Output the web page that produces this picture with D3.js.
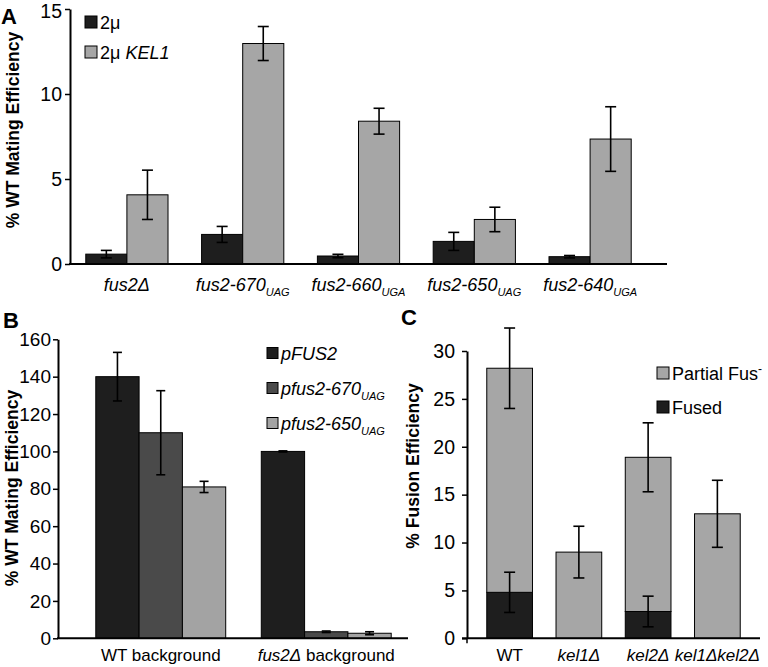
<!DOCTYPE html>
<html><head><meta charset="utf-8">
<script src="https://cdn.jsdelivr.net/npm/d3@7"></script>
<style>
body{margin:0;background:#fff}
svg{display:block}
text{font-family:"Liberation Sans",Arial,Helvetica,sans-serif;fill:#000}
</style>
</head><body>
<svg id="chart" width="768" height="667"></svg>
<script>
// ---------- Panel A data ----------
const aCategories = ["fus2Δ", "fus2-670", "fus2-660", "fus2-650", "fus2-640"];
const aSubscripts = ["", "UAG", "UGA", "UAG", "UGA"];
const aSeries = ["2μ", "2μ KEL1"];
const a2mu = [0.58, 1.74, 0.47, 1.33, 0.43];
const a2muErr = [0.22, 0.47, 0.1, 0.53, 0.07];
const a2muKEL1 = [4.07, 12.97, 8.4, 2.62, 7.35];
const a2muKEL1Err = [1.45, 1.0, 0.76, 0.72, 1.9];
const aTicks = [0, 5, 10, 15];

// ---------- Panel B data ----------
const bCategoriesItalic = ["", "fus2Δ"];
const bCategoriesPlain = ["WT background", " background"];
const bSeries = ["pFUS2", "pfus2-670", "pfus2-650"];
const bSeriesSub = ["", "UAG", "UAG"];
const bPFUS2 = [140, 100];
const bPFUS2Err = [13, 0.3];
const bP670 = [110, 3.5];
const bP670Err = [22.5, 0.4];
const bP650 = [81, 2.7];
const bP650Err = [3, 0.8];
const bTicks = [0, 20, 40, 60, 80, 100, 120, 140, 160];

// ---------- Panel C data ----------
const cCategories = ["WT", "kel1Δ", "kel2Δ", "kel1Δkel2Δ"];
const cCategoryItalic = [false, true, true, true];
const cFused = [4.8, 0, 2.8, 0];
const cFusedErr = [2.1, 0, 1.6, 0];
const cPartial = [23.4, 9.0, 16.1, 13.0];
const cTotalErr = [4.2, 2.7, 3.6, 3.5];
const cTicks = [0, 5, 10, 15, 20, 25, 30];

const svg = d3.select("#chart");
const DARK = "#1e1e1e", MID = "#4a4a4a", LIGHT = "#a6a6a6", LIGHT_B = "#a3a3a3";
const TICK_FS = 19.5, LABEL_FS = 17;

function yAxis(g, y, ticks, x, pad, fs) {
  const ax = g.append("g").attr("transform", `translate(${x},0)`)
    .call(d3.axisLeft(y).tickValues(ticks).tickSize(5).tickSizeOuter(0).tickPadding(pad).tickFormat(d3.format("d")));
  ax.select(".domain").attr("stroke", "#000").attr("stroke-width", 2);
  ax.selectAll(".tick line").attr("stroke", "#000").attr("stroke-width", 1.5);
  ax.selectAll(".tick text").attr("font-size", fs || TICK_FS).attr("font-family", "Liberation Sans, Arial, sans-serif").attr("fill", "#000");
  return ax;
}
function baseline(g, y, x0, x1) {
  g.append("line").attr("x1", x0 - 1).attr("x2", x1).attr("y1", y(0)).attr("y2", y(0))
    .attr("stroke", "#000").attr("stroke-width", 2);
}
function errBar(g, cx, y, v, e, cap) {
  g.append("line").attr("x1", cx).attr("x2", cx).attr("y1", y(v + e)).attr("y2", y(v - e))
    .attr("stroke", "#000").attr("stroke-width", 1.6);
  [v + e, v - e].forEach(t => g.append("line").attr("x1", cx - cap / 2).attr("x2", cx + cap / 2)
    .attr("y1", y(t)).attr("y2", y(t)).attr("stroke", "#000").attr("stroke-width", 1.6));
}
function yLabel(text, x, y) {
  svg.append("text").attr("transform", `translate(${x},${y}) rotate(-90)`)
    .attr("text-anchor", "middle").attr("font-size", 17.5).attr("font-weight", "bold").text(text);
}
function panelLetter(t, x, y) {
  svg.append("text").attr("x", x).attr("y", y).attr("font-size", 22).attr("font-weight", "bold").text(t);
}

// ================= Panel A =================
{
  const g = svg.append("g");
  const y = d3.scaleLinear().domain([0, 15]).range([264, 9]);
  const x = d3.scaleBand().domain(aCategories).range([69, 648]).paddingInner(0.29).paddingOuter(0.145);
  const xi = d3.scaleBand().domain(aSeries).range([0, x.bandwidth()]);
  const vals = [a2mu, a2muKEL1], errs = [a2muErr, a2muKEL1Err], cols = [DARK, LIGHT];
  aSeries.forEach((s, si) => {
    aCategories.forEach((c, ci) => {
      const bx = x(c) + xi(s);
      g.append("rect").attr("x", bx).attr("y", y(vals[si][ci])).attr("width", xi.bandwidth())
        .attr("height", y(0) - y(vals[si][ci])).attr("fill", cols[si]).attr("stroke", "#000").attr("stroke-width", 1);
    });
  });
  aSeries.forEach((s, si) => aCategories.forEach((c, ci) =>
    errBar(g, x(c) + xi(s) + xi.bandwidth() / 2, y, vals[si][ci], errs[si][ci], 11)));
  baseline(g, y, 70, 667);
  const ax = yAxis(g, y, aTicks, 70, 3);
  ax.selectAll(".tick text").filter(d => d === 15).attr("dy", "0.45em");
  aCategories.forEach((c, ci) => {
    const t = g.append("text").attr("x", x(c) + x.bandwidth() / 2).attr("y", 291)
      .attr("text-anchor", "middle").attr("font-size", LABEL_FS + 1).attr("font-style", "italic");
    t.append("tspan").text(c);
    if (aSubscripts[ci]) t.append("tspan").attr("font-size", 11).attr("dy", 5).text(aSubscripts[ci]);
  });
  // legend
  const lg = [{ c: DARK, y: 22, parts: [["2μ", "normal"]] }, { c: LIGHT, y: 52, parts: [["2μ ", "normal"], ["KEL1", "italic"]] }];
  lg.forEach(d => {
    g.append("rect").attr("x", 85).attr("y", d.y - 6).attr("width", 12).attr("height", 12)
      .attr("fill", d.c).attr("stroke", "#000").attr("stroke-width", 1);
    const t = g.append("text").attr("x", 100).attr("y", d.y + 6.5).attr("font-size", 18);
    d.parts.forEach(p => t.append("tspan").attr("font-style", p[1]).text(p[0]));
  });
  yLabel("% WT Mating Efficiency", 19, 130);
  panelLetter("A", 1, 24);
}

// ================= Panel B =================
{
  const g = svg.append("g");
  const y = d3.scaleLinear().domain([0, 160]).range([638.3, 339.3]);
  const x = d3.scaleBand().domain(bCategoriesPlain).range([78, 409]).paddingInner(0.215).paddingOuter(0.1075);
  const xi = d3.scaleBand().domain(bSeries).range([0, x.bandwidth()]);
  const vals = [bPFUS2, bP670, bP650], errs = [bPFUS2Err, bP670Err, bP650Err], cols = [DARK, MID, LIGHT_B];
  bSeries.forEach((s, si) => bCategoriesPlain.forEach((c, ci) => {
    g.append("rect").attr("x", x(c) + xi(s)).attr("y", y(vals[si][ci])).attr("width", xi.bandwidth())
      .attr("height", y(0) - y(vals[si][ci])).attr("fill", cols[si]).attr("stroke", "#000").attr("stroke-width", 1);
  }));
  bSeries.forEach((s, si) => bCategoriesPlain.forEach((c, ci) =>
    errBar(g, x(c) + xi(s) + xi.bandwidth() / 2, y, vals[si][ci], errs[si][ci], 9)));
  baseline(g, y, 58, 408);
  yAxis(g, y, bTicks, 58, 2, 19);
  bCategoriesPlain.forEach((c, ci) => {
    const t = g.append("text").attr("x", x(c) + x.bandwidth() / 2).attr("y", 661)
      .attr("text-anchor", "middle").attr("font-size", LABEL_FS);
    if (bCategoriesItalic[ci]) t.append("tspan").attr("font-style", "italic").text(bCategoriesItalic[ci]);
    t.append("tspan").text(c);
  });
  const ly = [353, 388, 423];
  bSeries.forEach((s, si) => {
    g.append("rect").attr("x", 267).attr("y", ly[si] - 5.5).attr("width", 11).attr("height", 11)
      .attr("fill", cols[si]).attr("stroke", "#000").attr("stroke-width", 1);
    const t = g.append("text").attr("x", 281).attr("y", ly[si] + 6.5).attr("font-size", 18).attr("font-style", "italic");
    t.append("tspan").text(s);
    if (bSeriesSub[si]) t.append("tspan").attr("font-size", 11).attr("dy", 5).text(bSeriesSub[si]);
  });
  yLabel("% WT Mating Efficiency", 17.5, 488);
  panelLetter("B", 3, 328);
}

// ================= Panel C =================
{
  const g = svg.append("g");
  const y = d3.scaleLinear().domain([0, 30]).range([638.3, 351]);
  const x = d3.scaleBand().domain(cCategories).range([475, 752]).paddingInner(0.34).paddingOuter(0.17);
  const rows = cCategories.map((c, i) => ({ cat: c, fused: cFused[i], partial: cPartial[i] }));
  const stack = d3.stack().keys(["fused", "partial"])(rows);
  const cols = { fused: DARK, partial: LIGHT };
  stack.forEach(layer => layer.forEach(d => {
    if (d[1] - d[0] <= 0) return;
    g.append("rect").attr("x", x(d.data.cat)).attr("y", y(d[1])).attr("width", x.bandwidth())
      .attr("height", y(d[0]) - y(d[1])).attr("fill", cols[layer.key]).attr("stroke", "#000").attr("stroke-width", 1);
  }));
  cCategories.forEach((c, i) => {
    const cx = x(c) + x.bandwidth() / 2;
    errBar(g, cx, y, cFused[i] + cPartial[i], cTotalErr[i], 11);
    if (cFused[i] > 0) errBar(g, cx, y, cFused[i], cFusedErr[i], 11);
  });
  baseline(g, y, 463, 760);
  g.append("line").attr("x1", 467).attr("x2", 467).attr("y1", y(0)).attr("y2", y(0) + 5).attr("stroke", "#000").attr("stroke-width", 1.5);
  yAxis(g, y, cTicks, 467, 7);
  cCategories.forEach((c, i) => {
    g.append("text").attr("x", x(c) + x.bandwidth() / 2).attr("y", 661).attr("text-anchor", "middle")
      .attr("font-size", LABEL_FS).attr("font-style", cCategoryItalic[i] ? "italic" : "normal").text(c);
  });
  const lg = [{ c: LIGHT, y: 373, main: "Partial Fus", sup: "-" }, { c: DARK, y: 407, main: "Fused", sup: "" }];
  lg.forEach(d => {
    g.append("rect").attr("x", 657).attr("y", d.y - 6).attr("width", 12).attr("height", 12)
      .attr("fill", d.c).attr("stroke", "#000").attr("stroke-width", 1);
    const t = g.append("text").attr("x", 672).attr("y", d.y + 6.5).attr("font-size", 18);
    t.append("tspan").text(d.main);
    if (d.sup) t.append("tspan").attr("font-size", 12).attr("dy", -7).text(d.sup);
  });
  yLabel("% Fusion Efficiency", 419, 466);
  panelLetter("C", 401, 325);
}
</script>
</body></html>
